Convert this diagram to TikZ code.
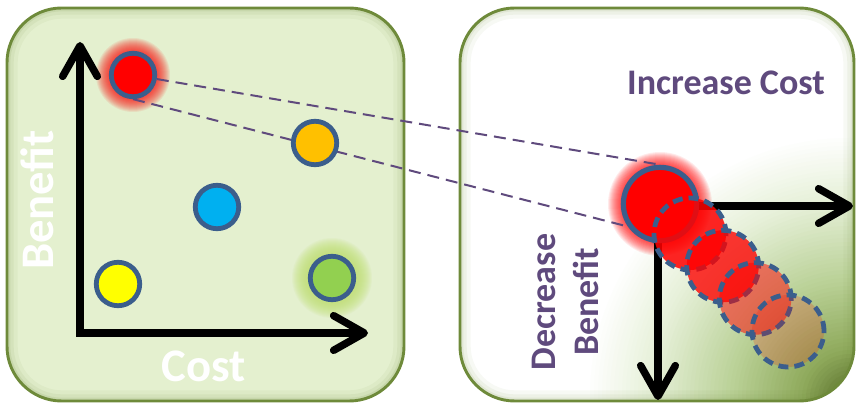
\documentclass[tikz,border=0pt]{standalone}
\usepackage{fontspec}
\setmainfont{Carlito}
\usetikzlibrary{arrows.meta}
\definecolor{leftfill}{HTML}{E4F0CF}
\definecolor{panelborder}{HTML}{6E8A3A}
\definecolor{txtpurple}{HTML}{5F4A7D}
\definecolor{ringblue}{HTML}{3B5E8C}
\definecolor{dkol}{HTML}{5A702C}
\definecolor{midg}{HTML}{8FAA5C}
\definecolor{lig}{HTML}{BAD197}
\definecolor{pale}{HTML}{E6F0D8}
\definecolor{corange}{HTML}{FFC000}
\definecolor{cblue}{HTML}{00B0F0}
\definecolor{cyellow}{HTML}{FFFF00}
\definecolor{cgreen}{HTML}{92D050}
\definecolor{gglow}{HTML}{BFE070}
\pgfdeclarelayer{panels}
\pgfdeclarelayer{links}
\pgfsetlayers{panels,links,main}
\begin{document}
\begin{tikzpicture}[x=0.75pt,y=-0.75pt,
  panel/.style={rounded corners=41pt},
  dot/.style={circle, draw=ringblue, line width=3.6pt, minimum size=32.6pt, inner sep=0pt},
  bigdot/.style={circle, draw=ringblue, line width=3.9pt, minimum size=55pt, inner sep=0pt, fill=red},
  ghost/.style={circle, draw=ringblue, line width=3.6pt, minimum size=54pt, inner sep=0pt, dash pattern=on 7.5pt off 4.5pt, fill=red},
  axis/.style={line width=5.6pt, {Straight Barb[round,length=23pt,width=26pt]}-{Straight Barb[round,length=23pt,width=26pt]}},
  link/.style={txtpurple, line width=1.5pt, dash pattern=on 9pt off 5.25pt},
  bigfont/.style={font=\bfseries\fontsize{35}{42}\selectfont},
  midfont/.style={font=\bfseries\fontsize{27}{32}\selectfont},
]
\useasboundingbox (0,0) rectangle (857,406);

\begin{pgfonlayer}{panels}
% left panel
\fill[leftfill, panel] (7,8) rectangle (404,401);
\begin{scope}
  \clip[panel] (7,8) rectangle (404,401);
  \foreach \w/\o in {16/0.06, 10/0.08, 5/0.12}
    \draw[panelborder, panel, line width=\w pt, opacity=\o] (7,8) rectangle (404,401);
\end{scope}
\draw[panelborder, panel, line width=2.2pt] (7,8) rectangle (404,401);
% right panel
\fill[white, panel] (460,8) rectangle (854,401);
\begin{scope}
  \clip[panel] (460,8) rectangle (854,401);
  \coordinate (gc) at (850,398);
  \foreach \r in {264,260,...,200} {
    \pgfmathsetmacro\p{(264-\r)/64*100}
    \fill[pale!\p!white] (gc) circle (\r);
  }
  \foreach \r in {196,192,...,120} {
    \pgfmathsetmacro\p{(200-\r)/80*100}
    \fill[lig!\p!pale] (gc) circle (\r);
  }
  \foreach \r in {116,112,...,52} {
    \pgfmathsetmacro\p{(120-\r)/70*100}
    \fill[midg!\p!lig] (gc) circle (\r);
  }
  \foreach \r in {48,44,...,4} {
    \pgfmathsetmacro\p{(50-\r)/50*100}
    \fill[dkol!\p!midg] (gc) circle (\r);
  }
  \foreach \w/\o in {16/0.05, 10/0.07, 5/0.1}
    \draw[panelborder, panel, line width=\w pt, opacity=\o] (460,8) rectangle (854,401);
\end{scope}
\draw[panelborder, panel, line width=2.2pt] (460,8) rectangle (854,401);
% glows
\foreach \r in {24,25,...,37}
  \fill[red, opacity=0.08] (133,75) circle (\r);
\foreach \r in {24,25,...,40}
  \fill[gglow, opacity=0.09] (332,278) circle (\r);
\foreach \r in {39,40,...,52}
  \fill[red, opacity=0.08] (660,204) circle (\r);
\end{pgfonlayer}

% left axes
\coordinate (lo) at (80,333);
\coordinate (lytip) at (80,42);
\coordinate (lxtip) at (368,333);
\draw[axis] (lytip) -- (lo) -- (lxtip);

% left dots
\node[dot, fill=red] (pr) at (133,75) {};
\node[dot, fill=corange] (po) at (315,143) {};
\node[dot, fill=cblue] (pb) at (217,207) {};
\node[dot, fill=cyellow] (py) at (118,284) {};
\node[dot, fill=cgreen] (pg) at (332,278) {};

% labels
\node[bigfont, text=white, rotate=90, anchor=base] (benefitL) at (53,200) {Benefit};
\node[bigfont, text=white, anchor=base] (costL) at (204,381) {Cost};
\node[midfont, text=txtpurple, anchor=base] (inc) at (726,95) {Increase Cost};
\node[midfont, text=txtpurple, rotate=90, anchor=base] (dec) at (555,302) {Decrease};
\node[midfont, text=txtpurple, rotate=90, anchor=base] (decb) at (598,302) {Benefit};

% right circles
\node[bigdot] (big) at (660,204) {};
\node[ghost, fill opacity=0.85] (g1) at (690,234) {};
\node[ghost, fill opacity=0.78] (g2) at (722.7,266.3) {};
\node[ghost, fill opacity=0.5] (g3) at (755.3,298.7) {};
\node[ghost, fill opacity=0.18] (g4) at (788,331) {};

\begin{pgfonlayer}{links}
\draw[link] (pr) -- (big.north);
\draw[link] (pr.south) -- (big.215);
\coordinate (ro) at (658,206);
\coordinate (rxtip) at (853,206);
\coordinate (rytip) at (658,400);
\draw[axis] (rxtip) -- (ro) -- (rytip);
\end{pgfonlayer}
\end{tikzpicture}
\end{document}
